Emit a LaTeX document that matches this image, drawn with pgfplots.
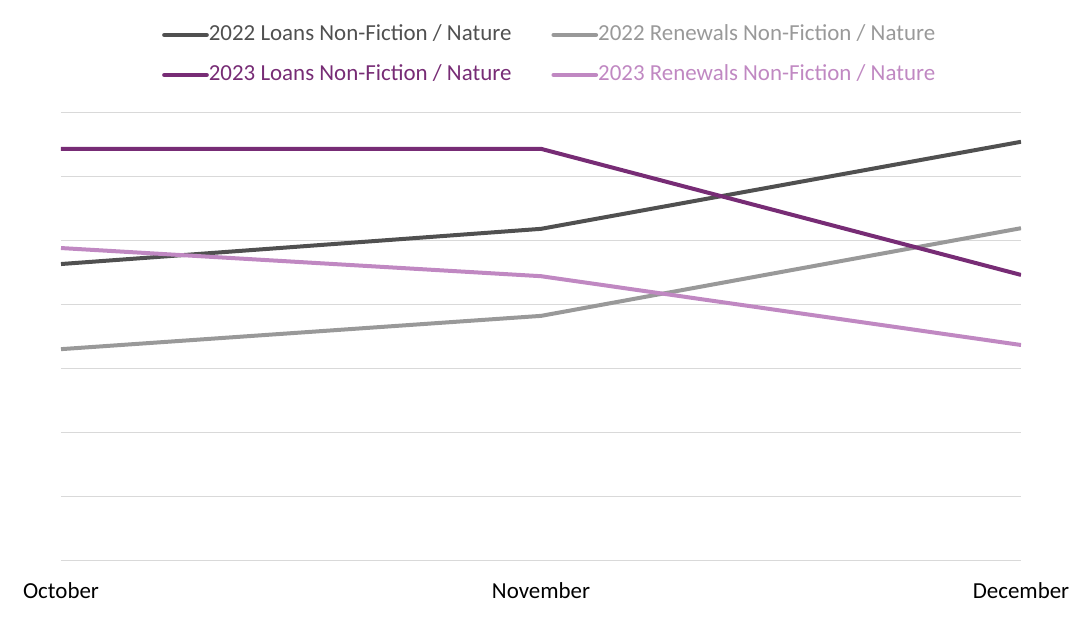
\documentclass[border=0pt]{standalone}
\usepackage{pgfplots}
\pgfplotsset{compat=1.18}
\usepackage{fontspec}
\setmainfont{Carlito}

\definecolor{loans22}{HTML}{505050}
\definecolor{renew22}{HTML}{999999}
\definecolor{loans23}{HTML}{772C75}
\definecolor{renew23}{HTML}{C088C2}
\definecolor{gridgray}{HTML}{D9D9D9}

\begin{document}
\begin{tikzpicture}
\path[use as bounding box] (0,0) rectangle (819pt,462.75pt);
\begin{axis}[
    at={(45.75pt,42pt)}, anchor=south west,
    scale only axis,
    width=720pt, height=336pt,
    xmin=0, xmax=2, ymin=0, ymax=7,
    xtick={0,1,2},
    xticklabels={October,November,December},
    ytick={0,1,...,7},
    yticklabels={},
    ymajorgrids,
    grid style={gridgray, line width=0.75pt},
    axis line style={draw=none},
    major tick length=0pt,
    font=\fontsize{17.2}{20}\selectfont,
    xticklabel style={anchor=north, yshift=-12.75pt, text height=12pt, text depth=3pt},
    legend columns=2,
    legend cell align=left,
    legend style={
        draw=none, fill=none,
        at={(axis description cs:0.508,1.203)}, anchor=north,
        column sep=0pt,
        /tikz/every even column/.append style={column sep=30pt},
        row sep=15pt,
        nodes={inner sep=0pt, text height=12pt, text depth=3pt},
    },
    legend image code/.code={\draw[#1, line cap=round] (0pt,0pt) -- (32pt,0pt);},
    every axis plot/.append style={line width=3pt, mark=none},
]
\addplot[loans22] coordinates {(0,4.64) (1,5.19) (2,6.55)};
\addlegendentry{\textcolor{loans22}{2022 Loans Non-Fiction / Nature}}
\addplot[renew22] coordinates {(0,3.31) (1,3.83) (2,5.20)};
\addlegendentry{\textcolor{renew22}{2022 Renewals Non-Fiction / Nature}}
\addplot[loans23] coordinates {(0,6.44) (1,6.44) (2,4.47)};
\addlegendentry{\textcolor{loans23}{2023 Loans Non-Fiction / Nature}}
\addplot[renew23] coordinates {(0,4.89) (1,4.45) (2,3.375)};
\addlegendentry{\textcolor{renew23}{2023 Renewals Non-Fiction / Nature}}
\end{axis}
\end{tikzpicture}
\end{document}
